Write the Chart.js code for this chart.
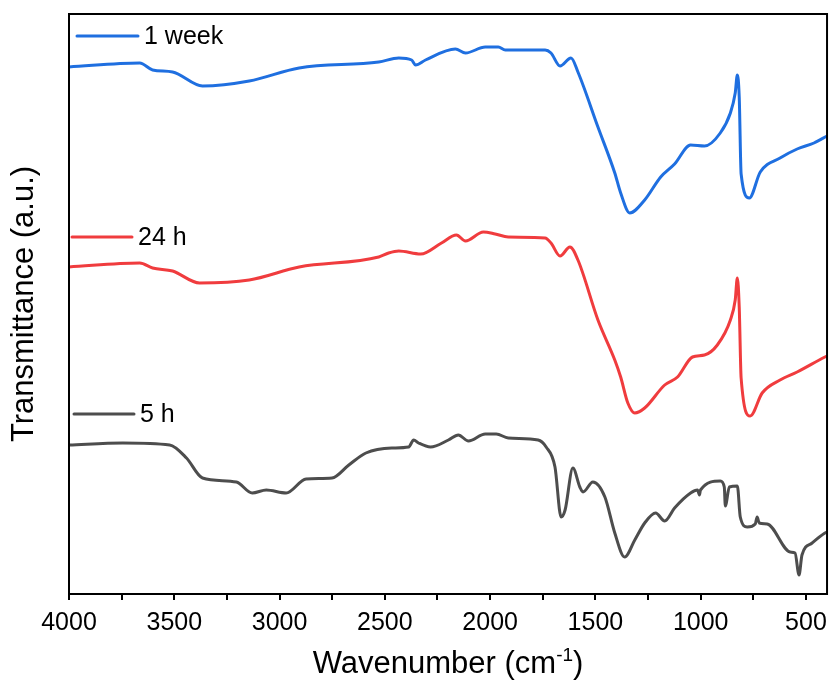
<!DOCTYPE html>
<html>
<head>
<meta charset="utf-8">
<script src="https://cdn.jsdelivr.net/npm/chart.js@4.4.0/dist/chart.umd.min.js"></script>
<style>
  html, body { margin: 0; padding: 0; background: #fff; }
  #wrap { width: 835px; height: 682px; }
</style>
</head>
<body>
<div id="wrap"><canvas id="ftirChart" width="835" height="682"></canvas></div>
<script>
// FTIR spectra, wavenumber (cm-1) vs transmittance (a.u., curves offset)
const waveWeek = [4000, 3664, 3603, 3508, 3366, 3144, 2907, 2529, 2434, 2373, 2354, 2307, 2165, 2117, 2023, 1961, 1928, 1739, 1711, 1668, 1616, 1583, 1488, 1408, 1380, 1337, 1266, 1190, 1124, 1048, 982, 907, 859, 836, 826, 817, 808, 769, 717, 623, 542, 462, 400];
const valWeek  = [52.7, 53.1, 52.4, 52.2, 50.8, 51.3, 52.6, 53.2, 53.6, 53.4, 52.9, 53.4, 54.5, 54.1, 54.7, 54.7, 54.4, 54.4, 54.1, 52.8, 53.6, 52.2, 46.7, 42.1, 40.1, 38.1, 39.4, 41.7, 43.0, 44.9, 44.8, 46.1, 48.1, 50.1, 51.9, 49.7, 42.0, 39.6, 42.2, 43.6, 44.5, 45.1, 45.8];

const wave24h = [4000, 3664, 3603, 3508, 3380, 3144, 2907, 2529, 2482, 2434, 2330, 2231, 2160, 2117, 2032, 1976, 1914, 1739, 1711, 1668, 1621, 1583, 1488, 1408, 1380, 1346, 1313, 1266, 1171, 1110, 1039, 982, 921, 859, 836, 826, 817, 808, 765, 708, 623, 542, 410, 400];
const val24h  = [32.7, 33.1, 32.6, 32.3, 31.1, 31.4, 32.7, 33.7, 34.1, 34.3, 34.0, 35.1, 35.9, 35.3, 36.2, 36.0, 35.7, 35.6, 35.1, 33.8, 34.7, 33.4, 27.4, 23.4, 21.7, 19.1, 18.1, 18.6, 20.9, 21.7, 23.7, 23.9, 24.9, 27.4, 29.4, 31.6, 28.7, 21.6, 17.8, 20.1, 21.4, 22.2, 23.7, 23.8];

const wave5h = [4000, 3745, 3522, 3442, 3366, 3205, 3130, 3063, 2969, 2874, 2751, 2671, 2590, 2467, 2387, 2363, 2340, 2283, 2198, 2151, 2103, 2023, 1971, 1914, 1772, 1734, 1692, 1663, 1644, 1607, 1574, 1559, 1512, 1455, 1408, 1361, 1313, 1266, 1214, 1171, 1124, 1048, 1015, 1006, 1001, 907, 888, 883, 864, 826, 812, 779, 741, 732, 722, 684, 575, 552, 533, 519, 471, 410, 400];
const val5h  = [14.9, 15.1, 14.9, 13.6, 11.6, 11.2, 10.1, 10.4, 10.1, 11.5, 11.6, 12.9, 14.1, 14.6, 14.7, 15.4, 15.1, 14.7, 15.4, 15.9, 15.3, 16.0, 16.0, 15.6, 15.4, 14.7, 12.7, 7.7, 8.4, 12.6, 10.7, 10.2, 11.2, 9.7, 6.1, 3.7, 5.4, 7.1, 8.1, 7.3, 8.6, 10.1, 10.4, 9.9, 10.4, 11.3, 10.7, 8.8, 10.7, 10.8, 7.7, 6.7, 7.0, 7.7, 7.1, 7.0, 4.2, 4.1, 1.9, 3.9, 5.1, 6.1, 6.2];

const seriesNames  = ['1 week', '24 h', '5 h'];
const seriesColors = ['rgb(31, 111, 224)', 'rgb(240, 60, 62)', 'rgb(77, 77, 77)'];
const tickLabels = [4000, 3500, 3000, 2500, 2000, 1500, 1000, 500];

const FONT = '"Liberation Sans", Arial, sans-serif';

function toPoints(xs, ys) {
    return xs.map((x, i) => ({ x: x, y: ys[i] }));
}

// where the little in-plot labels sit, relative to the plot area
const labelSpots = [
    { x0: 8, x1: 69, y: 22, tx: 75 },
    { x0: 3, x1: 63, y: 223, tx: 69 },
    { x0: 5, x1: 65, y: 400, tx: 71 }
];

const extrasPlugin = {
    id: 'extras',
    afterDraw(chart) {
        const ctx = chart.ctx;
        const area = chart.chartArea;
        ctx.save();

        // closed frame
        ctx.strokeStyle = '#000';
        ctx.lineWidth = 2;
        ctx.strokeRect(area.left, area.top, area.right - area.left, area.bottom - area.top);

        // series labels with line samples
        ctx.lineWidth = 3;
        ctx.lineCap = 'round';
        ctx.font = '25px ' + FONT;
        ctx.textBaseline = 'middle';
        ctx.textAlign = 'left';
        labelSpots.forEach((s, i) => {
            ctx.strokeStyle = seriesColors[i];
            ctx.beginPath();
            ctx.moveTo(area.left + s.x0, area.top + s.y);
            ctx.lineTo(area.left + s.x1, area.top + s.y);
            ctx.stroke();
            ctx.fillStyle = '#000';
            ctx.fillText(seriesNames[i], area.left + s.tx, area.top + s.y + 1);
        });

        // x title with superscript
        const main = 'Wavenumber (cm';
        const sup = '-1';
        const close = ')';
        ctx.textBaseline = 'alphabetic';
        ctx.font = '31px ' + FONT;
        const wMain = ctx.measureText(main).width;
        const wClose = ctx.measureText(close).width;
        ctx.font = '19px ' + FONT;
        const wSup = ctx.measureText(sup).width;
        const total = wMain + wSup + wClose;
        let x = (area.left + area.right) / 2 - total / 2;
        const base = chart.height - 9;
        ctx.fillStyle = '#000';
        ctx.font = '31px ' + FONT;
        ctx.fillText(main, x, base);
        x += wMain;
        ctx.font = '19px ' + FONT;
        ctx.fillText(sup, x, base - 12);
        x += wSup;
        ctx.font = '31px ' + FONT;
        ctx.fillText(close, x, base);

        ctx.restore();
    }
};

const ctx = document.getElementById('ftirChart');
new Chart(ctx, {
    type: 'line',
    data: {
        datasets: [
            { label: seriesNames[0], data: toPoints(waveWeek, valWeek), borderColor: seriesColors[0] },
            { label: seriesNames[1], data: toPoints(wave24h, val24h), borderColor: seriesColors[1] },
            { label: seriesNames[2], data: toPoints(wave5h, val5h), borderColor: seriesColors[2] }
        ]
    },
    options: {
        responsive: false,
        animation: false,
        devicePixelRatio: 1,
        layout: { padding: { top: 14, right: 6, left: 0, bottom: 0 } },
        elements: {
            line: { borderWidth: 3, cubicInterpolationMode: 'monotone', fill: false },
            point: { radius: 0, hoverRadius: 0 }
        },
        plugins: {
            legend: { display: false },
            tooltip: { enabled: false }
        },
        scales: {
            x: {
                type: 'linear',
                reverse: true,
                min: 400,
                max: 4000,
                border: { display: true, color: '#000', width: 2 },
                grid: { display: true, drawOnChartArea: false, drawTicks: true, tickLength: 6, color: '#000', lineWidth: 2 },
                ticks: {
                    color: '#000',
                    font: { family: FONT, size: 25 },
                    padding: 8,
                    maxRotation: 0,
                    autoSkip: false,
                    callback: v => tickLabels.includes(v) ? String(v) : ''
                },
                afterBuildTicks: scale => {
                    const ticks = [];
                    for (let v = 4000; v >= 500; v -= 250) ticks.push({ value: v });
                    scale.ticks = ticks;
                },
                afterFit: scale => { scale.height = 88; }
            },
            y: {
                min: 0,
                max: 58,
                border: { display: true, color: '#000', width: 2 },
                grid: { display: false },
                ticks: { display: false },
                title: {
                    display: true,
                    text: 'Transmittance (a.u.)',
                    color: '#000',
                    font: { family: FONT, size: 31 },
                    padding: { top: 6, bottom: 0 }
                },
                afterFit: scale => { scale.width = 69; }
            }
        }
    },
    plugins: [extrasPlugin]
});
</script>
</body>
</html>
